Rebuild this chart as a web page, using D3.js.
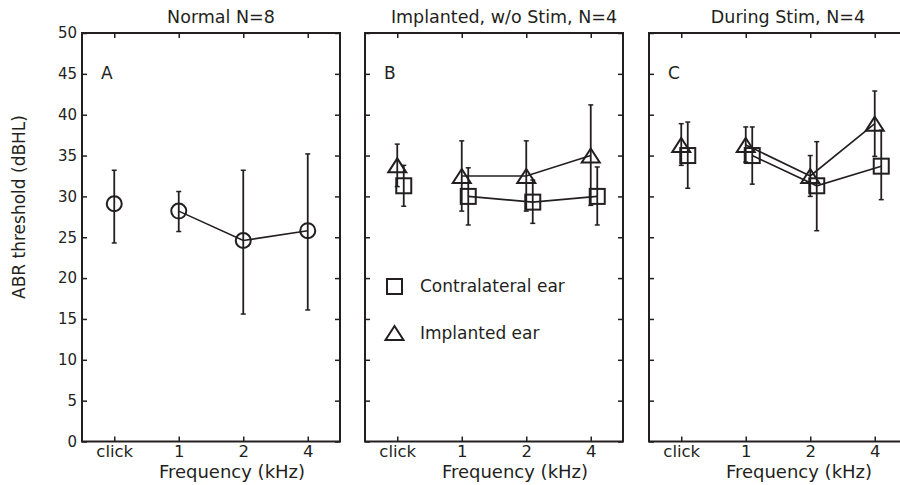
<!DOCTYPE html>
<html>
<head>
<meta charset="utf-8">
<script src="https://cdn.jsdelivr.net/npm/d3@7"></script>
<style>
  html, body { margin: 0; padding: 0; background: #fff; }
  svg { display: block; }
  text { font-family: "DejaVu Sans", "Open Sans", sans-serif; fill: #231f20; }
</style>
</head>
<body>
<svg id="chart" width="900" height="485"></svg>
<script>
// ---------- data ----------
const categories = ["click", "1", "2", "4"];
const freqs = [0.5, 1, 2, 4];            // "click" plotted at 0.5 kHz position on log axis
const yTicks = [0, 5, 10, 15, 20, 25, 30, 35, 40, 45, 50];

const panelTitles = ["Normal N=8", "Implanted, w/o Stim, N=4", "During Stim, N=4"];
const panelLetters = ["A", "B", "C"];

// Panel A : normal (circles)
const normalMean = [29.1, 28.2, 24.6, 25.8];
const normalHi   = [33.2, 30.6, 33.2, 35.2];
const normalLo   = [24.3, 25.7, 15.6, 16.1];

// Panel B : implanted, without stimulation
const implantedBMean = [33.8, 32.5, 32.5, 35.0];
const implantedBHi   = [36.4, 36.8, 36.8, 41.2];
const implantedBLo   = [31.2, 28.2, 28.2, 28.9];
const contraBMean = [31.3, 30.0, 29.3, 30.0];
const contraBHi   = [33.8, 33.5, 32.0, 33.6];
const contraBLo   = [28.8, 26.5, 26.7, 26.5];

// Panel C : during stimulation
const implantedCMean = [36.3, 36.3, 32.5, 38.9];
const implantedCHi   = [38.9, 38.5, 35.0, 42.9];
const implantedCLo   = [33.8, 34.2, 30.0, 34.9];
const contraCMean = [35.0, 35.0, 31.3, 33.7];
const contraCHi   = [39.1, 38.5, 36.7, 38.1];
const contraCLo   = [31.0, 31.5, 25.8, 29.6];

const legendLabels = ["Contralateral ear", "Implanted ear"];

// ---------- layout ----------
const svg = d3.select("#chart");
const ink = "#231f20";
const FONT = '"DejaVu Sans", "Open Sans", sans-serif';
const panelLefts = [82, 365, 649];
const plotTop = 33, W = 258, H = 408.5;

const x = d3.scaleLog().base(2).domain([0.5 / Math.SQRT2, 4 * Math.SQRT2]).range([0, W]);
const y = d3.scaleLinear().domain([0, 50]).range([H, 0]);

function mk(means, his, los, shape) {
  return means.map((m, i) => ({ f: freqs[i], m, hi: his[i], lo: los[i], shape }));
}
const panels = [
  { series: [mk(normalMean, normalHi, normalLo, "circle")] },
  { series: [mk(implantedBMean, implantedBHi, implantedBLo, "triangle"), mk(contraBMean, contraBHi, contraBLo, "square")] },
  { series: [mk(implantedCMean, implantedCHi, implantedCLo, "triangle"), mk(contraCMean, contraCHi, contraCLo, "square")] }
];
const shapeOffset = { circle: 0, triangle: 0, square: 6.5 };

function drawMarker(g, shape, cx, cy) {
  if (shape === "circle") {
    g.append("circle").attr("cx", cx).attr("cy", cy).attr("r", 7.5)
      .attr("fill", "none").attr("stroke", ink).attr("stroke-width", 2);
  } else if (shape === "square") {
    g.append("rect").attr("x", cx - 7.5).attr("y", cy - 7.5).attr("width", 15).attr("height", 15)
      .attr("fill", "none").attr("stroke", ink).attr("stroke-width", 2);
  } else {
    const w = 9, h = 7;
    g.append("path").attr("d", `M${cx},${cy - h}L${cx + w},${cy + h}L${cx - w},${cy + h}Z`)
      .attr("fill", "none").attr("stroke", ink).attr("stroke-width", 2).attr("stroke-linejoin", "miter");
  }
}

panels.forEach((p, pi) => {
  const left = panelLefts[pi];
  const g = svg.append("g").attr("transform", `translate(${left},${plotTop})`);

  // box
  g.append("rect").attr("x", 0).attr("y", 0).attr("width", W).attr("height", H)
    .attr("fill", "none").attr("stroke", ink).attr("stroke-width", 2);

  // axes (inward ticks)
  const ya = g.append("g").call(d3.axisLeft(y).tickValues(yTicks).tickSize(-5).tickSizeOuter(0).tickPadding(5)
    .tickFormat(pi === 0 ? d3.format("d") : ""));
  const yr = g.append("g").attr("transform", `translate(${W},0)`)
    .call(d3.axisRight(y).tickValues(yTicks).tickSize(-5).tickSizeOuter(0).tickFormat(""));
  const xb = g.append("g").attr("transform", `translate(0,${H})`)
    .call(d3.axisBottom(x).tickValues(freqs).tickSize(-5).tickSizeOuter(0).tickPadding(4)
      .tickFormat((d, i) => categories[i]));
  const xt = g.append("g")
    .call(d3.axisTop(x).tickValues(freqs).tickSize(-5).tickSizeOuter(0).tickFormat(""));
  [ya, yr, xb, xt].forEach(a => {
    a.select(".domain").remove();
    a.selectAll("line").attr("stroke", ink).attr("stroke-width", 1.5);
    a.selectAll("text").attr("fill", ink).style("font-family", FONT);
  });
  ya.selectAll("text").style("font-size", "15px");
  xb.selectAll("text").style("font-size", "16.5px").attr("dy", null).attr("y", 457 - plotTop - H);

  // title, letter, x label
  svg.append("text").attr("x", left + 139).attr("y", 23).attr("text-anchor", "middle")
    .style("font-size", "17.5px").text(panelTitles[pi]);
  g.append("text").attr("x", 19).attr("y", 46).style("font-size", "17px").text(panelLetters[pi]);
  svg.append("text").attr("x", left + 150).attr("y", 478).attr("text-anchor", "middle")
    .style("font-size", "18px").text("Frequency (kHz)");

  // data
  p.series.forEach(s => {
    const off = shapeOffset[s[0].shape];
    const px = d => x(d.f) + off;
    // connecting line (frequencies 1,2,4 only)
    const line = d3.line().x(px).y(d => y(d.m));
    g.append("path").attr("d", line(s.slice(1))).attr("fill", "none")
      .attr("stroke", ink).attr("stroke-width", 1.6);
    // error bars
    s.forEach(d => {
      const cx = px(d);
      g.append("line").attr("x1", cx).attr("x2", cx).attr("y1", y(d.lo)).attr("y2", y(d.hi))
        .attr("stroke", ink).attr("stroke-width", 1.8);
      [d.lo, d.hi].forEach(v => g.append("line").attr("x1", cx - 2.5).attr("x2", cx + 2.5)
        .attr("y1", y(v)).attr("y2", y(v)).attr("stroke", ink).attr("stroke-width", 1.5));
    });
    // markers
    s.forEach(d => drawMarker(g, d.shape, px(d), y(d.m)));
  });
});

// y axis label
svg.append("text").attr("transform", "translate(25,207) rotate(-90)").attr("text-anchor", "middle")
  .style("font-size", "17px").text("ABR threshold (dBHL)");

// legend in panel B
const lg = svg.append("g").attr("transform", `translate(${panelLefts[1]},0)`);
drawMarker(lg, "square", 29.5, 286.5);
drawMarker(lg, "triangle", 29.5, 333);
lg.append("text").attr("x", 55).attr("y", 292).style("font-size", "17px").text(legendLabels[0]);
lg.append("text").attr("x", 55).attr("y", 339).style("font-size", "17px").text(legendLabels[1]);
</script>
</body>
</html>
